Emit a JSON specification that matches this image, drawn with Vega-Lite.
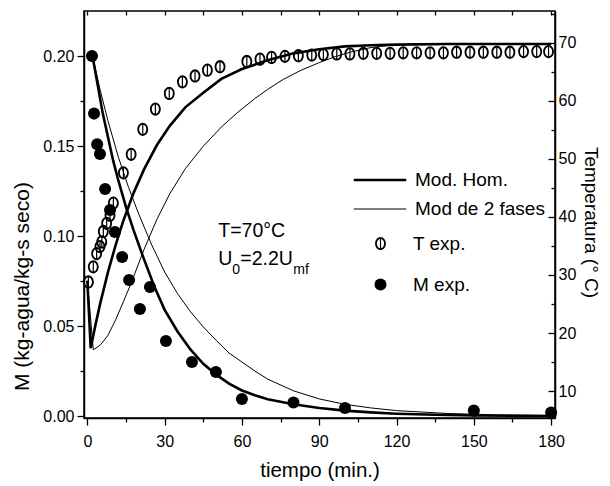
{
  "$schema": "https://vega.github.io/schema/vega-lite/v6.json",
  "width": 471,
  "height": 407,
  "autosize": {"type": "none"},
  "padding": {"left": 84, "top": 11, "right": 55, "bottom": 68},
  "background": "white",
  "config": {
    "font": "Liberation Sans",
    "view": {"stroke": "black", "strokeWidth": 1.5},
    "axis": {
      "domainColor": "black", "domainWidth": 1.5, "tickColor": "black", "tickWidth": 1.3,
      "labelColor": "black", "titleColor": "black", "labelFont": "Liberation Sans",
      "titleFont": "Liberation Sans", "labelFontSize": 16, "titleFontSize": 21,
      "titleFontWeight": "normal", "grid": false
    },
    "legend": {"labelFont": "Liberation Sans", "labelFontSize": 19, "labelColor": "black"}
  },
  "datasets": {
    "mlines": [
      {"t": 2, "M": 0.200, "modelo": "Mod. Hom."}, {"t": 4, "M": 0.184, "modelo": "Mod. Hom."},
      {"t": 6, "M": 0.168, "modelo": "Mod. Hom."}, {"t": 8, "M": 0.155, "modelo": "Mod. Hom."},
      {"t": 10, "M": 0.142, "modelo": "Mod. Hom."}, {"t": 12, "M": 0.131, "modelo": "Mod. Hom."},
      {"t": 15, "M": 0.116, "modelo": "Mod. Hom."}, {"t": 18, "M": 0.103, "modelo": "Mod. Hom."},
      {"t": 22, "M": 0.087, "modelo": "Mod. Hom."}, {"t": 26, "M": 0.072, "modelo": "Mod. Hom."},
      {"t": 30, "M": 0.059, "modelo": "Mod. Hom."}, {"t": 35, "M": 0.047, "modelo": "Mod. Hom."},
      {"t": 40, "M": 0.037, "modelo": "Mod. Hom."}, {"t": 45, "M": 0.029, "modelo": "Mod. Hom."},
      {"t": 50, "M": 0.023, "modelo": "Mod. Hom."}, {"t": 55, "M": 0.018, "modelo": "Mod. Hom."},
      {"t": 60, "M": 0.0142, "modelo": "Mod. Hom."}, {"t": 65, "M": 0.0115, "modelo": "Mod. Hom."},
      {"t": 70, "M": 0.0093, "modelo": "Mod. Hom."}, {"t": 80, "M": 0.0065, "modelo": "Mod. Hom."},
      {"t": 90, "M": 0.0045, "modelo": "Mod. Hom."}, {"t": 100, "M": 0.003, "modelo": "Mod. Hom."},
      {"t": 110, "M": 0.002, "modelo": "Mod. Hom."}, {"t": 120, "M": 0.0013, "modelo": "Mod. Hom."},
      {"t": 135, "M": 0.0007, "modelo": "Mod. Hom."}, {"t": 150, "M": 0.0003, "modelo": "Mod. Hom."},
      {"t": 165, "M": 0.0001, "modelo": "Mod. Hom."}, {"t": 180, "M": 0.0, "modelo": "Mod. Hom."},
      {"t": 2, "M": 0.200, "modelo": "Mod de 2 fases"}, {"t": 5, "M": 0.181, "modelo": "Mod de 2 fases"},
      {"t": 8, "M": 0.164, "modelo": "Mod de 2 fases"}, {"t": 12, "M": 0.144, "modelo": "Mod de 2 fases"},
      {"t": 16, "M": 0.127, "modelo": "Mod de 2 fases"}, {"t": 20, "M": 0.112, "modelo": "Mod de 2 fases"},
      {"t": 25, "M": 0.095, "modelo": "Mod de 2 fases"}, {"t": 30, "M": 0.080, "modelo": "Mod de 2 fases"},
      {"t": 35, "M": 0.068, "modelo": "Mod de 2 fases"}, {"t": 40, "M": 0.058, "modelo": "Mod de 2 fases"},
      {"t": 45, "M": 0.0495, "modelo": "Mod de 2 fases"}, {"t": 50, "M": 0.042, "modelo": "Mod de 2 fases"},
      {"t": 55, "M": 0.035, "modelo": "Mod de 2 fases"}, {"t": 60, "M": 0.030, "modelo": "Mod de 2 fases"},
      {"t": 65, "M": 0.025, "modelo": "Mod de 2 fases"}, {"t": 70, "M": 0.0205, "modelo": "Mod de 2 fases"},
      {"t": 80, "M": 0.014, "modelo": "Mod de 2 fases"}, {"t": 90, "M": 0.0095, "modelo": "Mod de 2 fases"},
      {"t": 100, "M": 0.0065, "modelo": "Mod de 2 fases"}, {"t": 110, "M": 0.0045, "modelo": "Mod de 2 fases"},
      {"t": 120, "M": 0.003, "modelo": "Mod de 2 fases"}, {"t": 140, "M": 0.0014, "modelo": "Mod de 2 fases"},
      {"t": 160, "M": 0.0006, "modelo": "Mod de 2 fases"}, {"t": 180, "M": 0.0003, "modelo": "Mod de 2 fases"}
    ],
    "tlines": [
      {"t": 0, "T": 29, "modelo": "Mod. Hom."}, {"t": 1.3, "T": 17.4, "modelo": "Mod. Hom."},
      {"t": 3, "T": 21.1, "modelo": "Mod. Hom."}, {"t": 5, "T": 25.1, "modelo": "Mod. Hom."},
      {"t": 8, "T": 30.5, "modelo": "Mod. Hom."}, {"t": 11, "T": 35.2, "modelo": "Mod. Hom."},
      {"t": 14, "T": 39.4, "modelo": "Mod. Hom."}, {"t": 18, "T": 44.2, "modelo": "Mod. Hom."},
      {"t": 22, "T": 48.2, "modelo": "Mod. Hom."}, {"t": 27, "T": 52.4, "modelo": "Mod. Hom."},
      {"t": 32, "T": 55.7, "modelo": "Mod. Hom."}, {"t": 38, "T": 58.9, "modelo": "Mod. Hom."},
      {"t": 45, "T": 61.4, "modelo": "Mod. Hom."}, {"t": 52, "T": 63.8, "modelo": "Mod. Hom."},
      {"t": 60, "T": 65.5, "modelo": "Mod. Hom."}, {"t": 70, "T": 67.0, "modelo": "Mod. Hom."},
      {"t": 80, "T": 68.2, "modelo": "Mod. Hom."}, {"t": 90, "T": 68.9, "modelo": "Mod. Hom."},
      {"t": 100, "T": 69.4, "modelo": "Mod. Hom."}, {"t": 110, "T": 69.6, "modelo": "Mod. Hom."},
      {"t": 120, "T": 69.7, "modelo": "Mod. Hom."}, {"t": 140, "T": 69.8, "modelo": "Mod. Hom."},
      {"t": 180, "T": 69.8, "modelo": "Mod. Hom."},
      {"t": 0, "T": 29, "modelo": "Mod de 2 fases"}, {"t": 2.3, "T": 17.1, "modelo": "Mod de 2 fases"},
      {"t": 5, "T": 17.9, "modelo": "Mod de 2 fases"}, {"t": 8, "T": 19.6, "modelo": "Mod de 2 fases"},
      {"t": 11, "T": 22.3, "modelo": "Mod de 2 fases"}, {"t": 14, "T": 25.4, "modelo": "Mod de 2 fases"},
      {"t": 17, "T": 28.6, "modelo": "Mod de 2 fases"}, {"t": 22, "T": 34.4, "modelo": "Mod de 2 fases"},
      {"t": 27, "T": 39.6, "modelo": "Mod de 2 fases"}, {"t": 32, "T": 44.0, "modelo": "Mod de 2 fases"},
      {"t": 38, "T": 48.3, "modelo": "Mod de 2 fases"}, {"t": 45, "T": 52.2, "modelo": "Mod de 2 fases"},
      {"t": 52, "T": 55.5, "modelo": "Mod de 2 fases"}, {"t": 58, "T": 57.9, "modelo": "Mod de 2 fases"},
      {"t": 65, "T": 60.4, "modelo": "Mod de 2 fases"}, {"t": 70, "T": 62.0, "modelo": "Mod de 2 fases"},
      {"t": 76, "T": 63.7, "modelo": "Mod de 2 fases"}, {"t": 83, "T": 65.3, "modelo": "Mod de 2 fases"},
      {"t": 90, "T": 66.6, "modelo": "Mod de 2 fases"}, {"t": 96, "T": 67.6, "modelo": "Mod de 2 fases"},
      {"t": 102, "T": 68.4, "modelo": "Mod de 2 fases"}, {"t": 110, "T": 69.2, "modelo": "Mod de 2 fases"},
      {"t": 118, "T": 69.6, "modelo": "Mod de 2 fases"}, {"t": 125, "T": 69.8, "modelo": "Mod de 2 fases"},
      {"t": 140, "T": 69.8, "modelo": "Mod de 2 fases"}, {"t": 180, "T": 69.8, "modelo": "Mod de 2 fases"}
    ],
    "mexp": [
      {"t": 1.8, "M": 0.200, "serie": "M exp."}, {"t": 2.6, "M": 0.168, "serie": "M exp."},
      {"t": 3.8, "M": 0.151, "serie": "M exp."}, {"t": 4.9, "M": 0.1456, "serie": "M exp."},
      {"t": 6.9, "M": 0.1261, "serie": "M exp."}, {"t": 8.8, "M": 0.1144, "serie": "M exp."},
      {"t": 10.7, "M": 0.1022, "serie": "M exp."}, {"t": 13.5, "M": 0.0883, "serie": "M exp."},
      {"t": 16.2, "M": 0.0756, "serie": "M exp."}, {"t": 20.4, "M": 0.0594, "serie": "M exp."},
      {"t": 24.3, "M": 0.0717, "serie": "M exp."}, {"t": 30.5, "M": 0.0417, "serie": "M exp."},
      {"t": 40.6, "M": 0.030, "serie": "M exp."}, {"t": 49.9, "M": 0.0244, "serie": "M exp."},
      {"t": 60.0, "M": 0.0094, "serie": "M exp."}, {"t": 80, "M": 0.0075, "serie": "M exp."},
      {"t": 100, "M": 0.0045, "serie": "M exp."}, {"t": 150, "M": 0.003, "serie": "M exp."},
      {"t": 180, "M": 0.002, "serie": "M exp."}
    ],
    "texp": [
      {"t": 0.4, "T": 28.8, "serie": "T exp."}, {"t": 2.3, "T": 31.4, "serie": "T exp."},
      {"t": 3.6, "T": 33.7, "serie": "T exp."}, {"t": 4.9, "T": 34.9, "serie": "T exp."},
      {"t": 5.6, "T": 35.7, "serie": "T exp."}, {"t": 6.2, "T": 37.5, "serie": "T exp."},
      {"t": 7.5, "T": 38.9, "serie": "T exp."}, {"t": 8.8, "T": 40.3, "serie": "T exp."},
      {"t": 10.1, "T": 42.4, "serie": "T exp."}, {"t": 14.0, "T": 47.6, "serie": "T exp."},
      {"t": 17.0, "T": 50.8, "serie": "T exp."}, {"t": 21.5, "T": 55.1, "serie": "T exp."},
      {"t": 26.4, "T": 58.6, "serie": "T exp."}, {"t": 31.8, "T": 61.3, "serie": "T exp."},
      {"t": 36.9, "T": 63.3, "serie": "T exp."}, {"t": 41.8, "T": 64.3, "serie": "T exp."},
      {"t": 46.6, "T": 65.3, "serie": "T exp."}, {"t": 51.5, "T": 65.9, "serie": "T exp."},
      {"t": 61.9, "T": 66.8, "serie": "T exp."}, {"t": 67.0, "T": 67.2, "serie": "T exp."},
      {"t": 71.5, "T": 67.5, "serie": "T exp."}, {"t": 76.7, "T": 67.7, "serie": "T exp."},
      {"t": 81.9, "T": 67.8, "serie": "T exp."}, {"t": 87.1, "T": 67.9, "serie": "T exp."},
      {"t": 91.6, "T": 68.0, "serie": "T exp."}, {"t": 96.8, "T": 68.1, "serie": "T exp."},
      {"t": 101.9, "T": 68.1, "serie": "T exp."}, {"t": 107.1, "T": 68.2, "serie": "T exp."},
      {"t": 112.3, "T": 68.2, "serie": "T exp."}, {"t": 117.5, "T": 68.2, "serie": "T exp."},
      {"t": 122.6, "T": 68.3, "serie": "T exp."}, {"t": 127.8, "T": 68.3, "serie": "T exp."},
      {"t": 133.0, "T": 68.3, "serie": "T exp."}, {"t": 138.2, "T": 68.3, "serie": "T exp."},
      {"t": 143.3, "T": 68.4, "serie": "T exp."}, {"t": 148.5, "T": 68.4, "serie": "T exp."},
      {"t": 153.7, "T": 68.4, "serie": "T exp."}, {"t": 158.9, "T": 68.4, "serie": "T exp."},
      {"t": 164.0, "T": 68.4, "serie": "T exp."}, {"t": 169.3, "T": 68.5, "serie": "T exp."},
      {"t": 174.4, "T": 68.5, "serie": "T exp."}, {"t": 179.0, "T": 68.5, "serie": "T exp."}
    ],
    "anot": [
      {"t": 50.8, "M": 0.0993, "txt": "T=70°C", "parte": "a"},
      {"t": 50.8, "M": 0.0839, "txt": "U", "parte": "b"},
      {"t": 50.8, "M": 0.0839, "txt": "0", "parte": "c"},
      {"t": 50.8, "M": 0.0839, "txt": "=2.2U", "parte": "d"},
      {"t": 50.8, "M": 0.0839, "txt": "mf", "parte": "e"}
    ]
  },
  "layer": [
    {
      "encoding": {
        "x": {
          "field": "t", "type": "quantitative",
          "scale": {"domain": [-1.3, 181.5], "nice": false, "zero": false},
          "axis": {
            "orient": "bottom",
            "values": [0, 15, 30, 45, 60, 75, 90, 105, 120, 135, 150, 165, 180],
            "labelExpr": "datum.value % 30 === 0 ? datum.label : ''",
            "tickSize": {"condition": {"test": "datum.value % 30 === 0", "value": 7}, "value": 4},
            "labelPadding": 8,
            "title": "tiempo (min.)",
            "titleY": 52, "titleBaseline": "middle", "titleFontSize": 20.5
          }
        },
        "y": {
          "field": "M", "type": "quantitative",
          "scale": {"domain": [-0.0011, 0.225], "nice": false, "zero": false},
          "axis": {
            "orient": "left",
            "values": [0, 0.025, 0.05, 0.075, 0.1, 0.125, 0.15, 0.175, 0.2],
            "labelExpr": "round(datum.value * 1000) % 50 === 0 ? format(datum.value, '.2f') : ''",
            "tickSize": {"condition": {"test": "round(datum.value * 1000) % 50 === 0", "value": 7}, "value": 4},
            "labelPadding": 3,
            "title": "M (kg-agua/kg-s seco)",
            "titleX": -62, "titleY": 275, "titleBaseline": "middle", "titleAngle": -90
          }
        }
      },
      "layer": [
        {
          "data": {"name": "mlines"},
          "mark": {"type": "line", "color": "black"},
          "encoding": {
            "strokeWidth": {
              "field": "modelo", "type": "nominal",
              "scale": {"domain": ["Mod. Hom.", "Mod de 2 fases"], "range": [2.6, 1]},
              "legend": {
                "orient": "none", "legendX": 284, "legendY": 157, "title": null,
                "symbolType": "M -2.5 0 L 2.5 0", "symbolSize": 441,
                "symbolStrokeColor": "black", "symbolFillColor": "transparent",
                "labelOffset": 23, "rowPadding": 8
              }
            }
          }
        },
        {
          "data": {"name": "mexp"},
          "mark": {"type": "point", "filled": true, "size": 145, "color": "black", "opacity": 1},
          "encoding": {
            "shape": {
              "field": "serie", "type": "nominal",
              "scale": {"domain": ["T exp.", "M exp."], "range": ["M 0 -1.1 A 0.9 1.1 0 1 1 0 1.1 A 0.9 1.1 0 1 1 0 -1.1 Z M 0 -0.8 A 0.6 0.8 0 1 0 0 0.8 A 0.6 0.8 0 1 0 0 -0.8 Z M -0.1 -0.8 L 0.1 -0.8 L 0.1 0.8 L -0.1 0.8 Z", "circle"]},
              "legend": {
                "orient": "none", "legendX": 287, "legendY": 223, "title": null,
                "symbolSize": 145, "symbolFillColor": "black",
                "labelOffset": 23, "rowPadding": 21
              }
            }
          }
        },
        {
          "data": {"name": "anot"},
          "transform": [{"filter": "datum.parte === 'a'"}],
          "mark": {"type": "text", "align": "left", "baseline": "alphabetic", "fontSize": 19.5, "color": "black"},
          "encoding": {"text": {"field": "txt"}}
        },
        {
          "data": {"name": "anot"},
          "transform": [{"filter": "datum.parte === 'b'"}],
          "mark": {"type": "text", "align": "left", "baseline": "alphabetic", "fontSize": 19.5, "color": "black"},
          "encoding": {"text": {"field": "txt"}}
        },
        {
          "data": {"name": "anot"},
          "transform": [{"filter": "datum.parte === 'c'"}],
          "mark": {"type": "text", "align": "left", "baseline": "alphabetic", "fontSize": 14, "dx": 14, "dy": 9, "color": "black"},
          "encoding": {"text": {"field": "txt"}}
        },
        {
          "data": {"name": "anot"},
          "transform": [{"filter": "datum.parte === 'd'"}],
          "mark": {"type": "text", "align": "left", "baseline": "alphabetic", "fontSize": 19.5, "dx": 22, "color": "black"},
          "encoding": {"text": {"field": "txt"}}
        },
        {
          "data": {"name": "anot"},
          "transform": [{"filter": "datum.parte === 'e'"}],
          "mark": {"type": "text", "align": "left", "baseline": "alphabetic", "fontSize": 14, "dx": 75, "dy": 9, "color": "black"},
          "encoding": {"text": {"field": "txt"}}
        }
      ]
    },
    {
      "encoding": {
        "x": {
          "field": "t", "type": "quantitative",
          "scale": {"domain": [-1.3, 181.5], "nice": false, "zero": false},
          "axis": {
            "orient": "top",
            "values": [0, 15, 30, 45, 60, 75, 90, 105, 120, 135, 150, 165, 180],
            "labels": false, "domain": false, "tickSize": -4, "title": null
          }
        },
        "y": {
          "field": "T", "type": "quantitative",
          "scale": {"domain": [5.35, 75.5], "nice": false, "zero": false},
          "axis": {
            "orient": "right",
            "values": [10, 15, 20, 25, 30, 35, 40, 45, 50, 55, 60, 65, 70, 75],
            "labelExpr": "datum.value % 10 === 0 ? datum.label : ''",
            "tickSize": {"condition": {"test": "datum.value % 10 === 0", "value": -7}, "value": -4},
            "labelPadding": 10,
            "title": "Temperatura (° C)",
            "titleX": 35, "titleY": 211, "titleBaseline": "middle", "titleAngle": 90, "titleFontSize": 19
          }
        }
      },
      "layer": [
        {
          "data": {"name": "tlines"},
          "mark": {"type": "line", "color": "black"},
          "encoding": {
            "strokeWidth": {
              "field": "modelo", "type": "nominal",
              "scale": {"domain": ["Mod. Hom.", "Mod de 2 fases"], "range": [2.6, 1]},
              "legend": {
                "orient": "none", "legendX": 284, "legendY": 157, "title": null,
                "symbolType": "M -2.5 0 L 2.5 0", "symbolSize": 441,
                "symbolStrokeColor": "black", "symbolFillColor": "transparent",
                "labelOffset": 23, "rowPadding": 8
              }
            }
          }
        },
        {
          "data": {"name": "texp"},
          "mark": {"type": "point", "filled": true, "size": 145, "color": "black", "opacity": 1},
          "encoding": {
            "shape": {
              "field": "serie", "type": "nominal",
              "scale": {"domain": ["T exp.", "M exp."], "range": ["M 0 -1.1 A 0.9 1.1 0 1 1 0 1.1 A 0.9 1.1 0 1 1 0 -1.1 Z M 0 -0.8 A 0.6 0.8 0 1 0 0 0.8 A 0.6 0.8 0 1 0 0 -0.8 Z M -0.1 -0.8 L 0.1 -0.8 L 0.1 0.8 L -0.1 0.8 Z", "circle"]},
              "legend": {
                "orient": "none", "legendX": 287, "legendY": 223, "title": null,
                "symbolSize": 145, "symbolFillColor": "black",
                "labelOffset": 23, "rowPadding": 21
              }
            }
          }
        }
      ]
    }
  ],
  "resolve": {"scale": {"y": "independent"}, "axis": {"x": "independent"}}
}
